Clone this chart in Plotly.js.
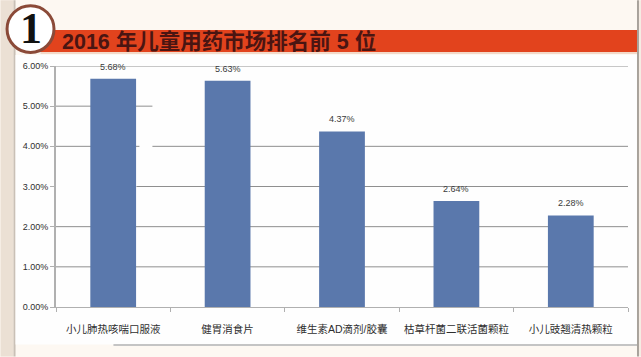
<!DOCTYPE html>
<html><head><meta charset="utf-8">
<script src="https://cdn.plot.ly/plotly-3.0.1.min.js"></script>
<style>html,body{margin:0;padding:0;background:#fdf8f2}</style></head>
<body><div id="chart" style="width:641px;height:357px"></div>
<script>
const categories = ["小儿肺热咳喘口服液","健胃消食片","维生素AD滴剂/胶囊","枯草杆菌二联活菌颗粒","小儿豉翘清热颗粒"];
const shares = [5.68,5.63,4.37,2.64,2.28];
const shareLabels = ["5.68%","5.63%","4.37%","2.64%","2.28%"];
const titleText = "2016 年儿童用药市场排名前 5 位";
const W=641,H=357,L=55.5,R=628,T=66,B=307.5;
const FONT='"Liberation Sans","Noto Sans CJK SC",sans-serif';
const fx=x=>(x-L)/(R-L), fy=y=>(B-y)/(B-T);
function px(x0,y0,x1,y1,fill){return {type:"rect",xref:"paper",yref:"paper",layer:"below",
  x0:fx(x0),x1:fx(x1),y0:fy(y1),y1:fy(y0),fillcolor:fill,line:{width:0}};}
// gridlines as torn up by the paper patches of the source photo: [value, from px, to px]
function grid(v,x0,x1){return {type:"line",xref:"paper",yref:"y",layer:"below",x0:fx(x0),x1:fx(x1),y0:v,y1:v,line:{color:"#8f8f8f",width:1}};}
const shapes=[
  px(0,0,641,357,"#fdf8f2"),
  px(0,0,13,357,"#ebe0d4"),
  px(13,0,15,357,"#c9c0b6"),
  px(15,55,637,345,"#fefefe"),
  px(113,344.5,637,346.5,"#c4c4c4"),
  px(637,0,639,357,"#a8a29b"),
  px(639,0,641,357,"#f5ece3"),
  px(40,30,637,52,"#e2431d"),
  px(40,52,637,54,"#f3d9c9"),
  {type:"circle",xref:"paper",yref:"paper",layer:"below",
   x0:fx(6.5),x1:fx(53.5),y0:fy(52.5),y1:fy(5.5),
   fillcolor:"#ffffff",line:{color:"#8b4a38",width:3}},
  grid(6,L,R),grid(5,L,152),grid(4,L,139),grid(4,152,R),grid(3,136,R),grid(2,L,R),grid(1,L,R)
];
const annotations=categories.map((c,i)=>({x:c,y:shares[i],text:shareLabels[i],xref:"x",yref:"y",
  showarrow:false,yshift:12,yanchor:"middle",font:{size:9,color:"#3a3a3a",family:FONT}}));
annotations.push({xref:"paper",yref:"paper",x:fx(30.5),y:fy(28),text:"<b>1</b>",showarrow:false,
  xanchor:"center",yanchor:"middle",font:{size:44,color:"#111111",family:'"Liberation Serif",serif'}});
Plotly.newPlot("chart",[{type:"bar",x:categories,y:shares,marker:{color:"#5a78ac"},width:0.4,hoverinfo:"skip"}],{
  width:W,height:H,paper_bgcolor:"#fdf8f2",plot_bgcolor:"rgba(0,0,0,0)",
  margin:{l:L,r:W-R,t:T,b:H-B,pad:0},showlegend:false,
  title:{text:titleText,x:62/W,xanchor:"left",xref:"container",y:1-41.5/H,yanchor:"middle",yref:"container",
    font:{size:21.5,color:"#4a1512",family:FONT,weight:"bold"}},
  xaxis:{type:"category",range:[-0.5,4.5],tickson:"boundaries",ticks:"outside",ticklen:4,tickcolor:"#b0b0b0",tickwidth:1,
    showline:true,linecolor:"#b0b0b0",linewidth:1,showgrid:false,ticklabelstandoff:12,tickangle:0,
    tickfont:{size:10.5,color:"#2e2e2e",family:FONT},automargin:false},
  yaxis:{range:[0,6],dtick:1,tickformat:".2f",ticksuffix:"%",ticks:"outside",ticklen:4,tickcolor:"#b0b0b0",tickwidth:1,
    showline:true,linecolor:"#b0b0b0",linewidth:2,showgrid:false,zeroline:false,
    tickfont:{size:9,color:"#2e2e2e",family:FONT},automargin:false},
  shapes,annotations
},{displayModeBar:false,staticPlot:true});
</script></body></html>
